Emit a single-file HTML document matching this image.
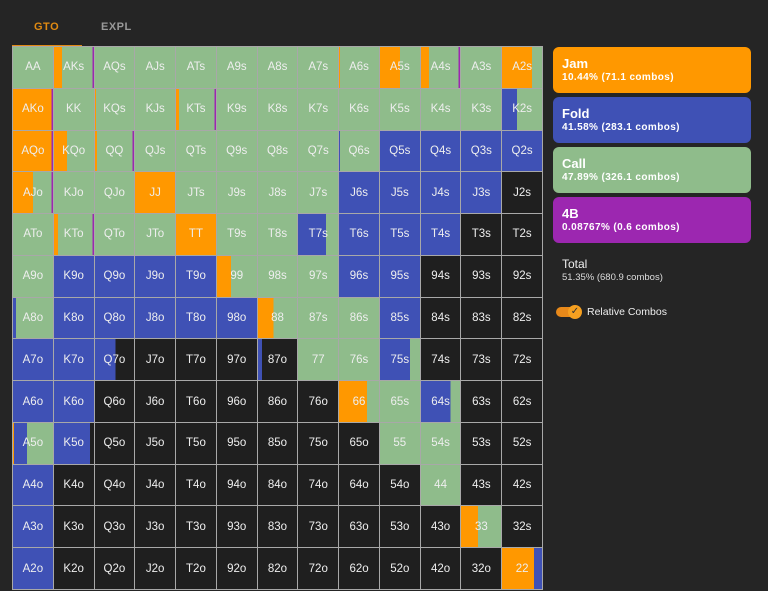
<!DOCTYPE html>
<html><head><meta charset="utf-8"><style>
body{margin:0;width:768px;height:591px;background:#252525;font-family:"Liberation Sans",sans-serif;overflow:hidden;position:relative}
.tab{position:absolute;top:21px;font-size:11px;font-weight:bold;letter-spacing:.5px}
#grid{position:absolute;left:12px;top:46px;width:531px;height:544px;background:#a8a8a8;display:grid;grid-template-columns:repeat(13,1fr);grid-template-rows:repeat(13,1fr);gap:1px;padding:1px;box-sizing:border-box}
#grid div{display:flex;align-items:center;justify-content:center;color:#eee;font-size:11.5px}
.g{background:#8fbc8b}.b{background:#3f51b5}.k{background:#1f1f1f}.o{background:#ff9800}
.box{position:absolute;left:553px;width:198px;height:46px;border-radius:6px;color:#fff;box-sizing:border-box;padding:9px 0 0 9px}
.box b{display:block;font-size:13px}
.box span{display:block;font-size:10px;font-weight:bold;letter-spacing:.4px;margin-top:1px}
</style></head><body>
<div class="tab" style="left:34px;color:#e08a12">GTO</div>
<div class="tab" style="left:101px;color:#999">EXPL</div>
<div style="position:absolute;left:12px;top:45px;width:70px;height:2px;background:#e08a12"></div>
<div id="grid">
<div class="g">AA</div>
<div style="background:linear-gradient(90deg,#ff9800 20%,#8fbc8b 20%,#8fbc8b 96%,#9c27b0 96%)">AKs</div>
<div class="g">AQs</div><div class="g">AJs</div><div class="g">ATs</div><div class="g">A9s</div><div class="g">A8s</div><div class="g">A7s</div>
<div style="background:linear-gradient(90deg,#ff9800 3%,#8fbc8b 3%)">A6s</div>
<div style="background:linear-gradient(90deg,#ff9800 50%,#8fbc8b 50%)">A5s</div>
<div style="background:linear-gradient(90deg,#ff9800 20%,#8fbc8b 20%,#8fbc8b 96%,#9c27b0 96%)">A4s</div>
<div class="g">A3s</div>
<div style="background:linear-gradient(90deg,#ff9800 75%,#8fbc8b 75%)">A2s</div>

<div style="background:linear-gradient(90deg,#ff9800 96%,#9c27b0 96%)">AKo</div>
<div class="g">KK</div>
<div style="background:linear-gradient(90deg,#ff9800 3%,#8fbc8b 3%)">KQs</div>
<div class="g">KJs</div>
<div style="background:linear-gradient(90deg,#ff9800 8%,#8fbc8b 8%,#8fbc8b 96%,#9c27b0 96%)">KTs</div>
<div class="g">K9s</div><div class="g">K8s</div><div class="g">K7s</div><div class="g">K6s</div><div class="g">K5s</div><div class="g">K4s</div><div class="g">K3s</div>
<div style="background:linear-gradient(90deg,#3f51b5 37%,#8fbc8b 37%)">K2s</div>

<div style="background:linear-gradient(90deg,#ff9800 96%,#9c27b0 96%)">AQo</div>
<div style="background:linear-gradient(90deg,#ff9800 32%,#8fbc8b 32%)">KQo</div>
<div style="background:linear-gradient(90deg,#ff9800 5%,#8fbc8b 5%,#8fbc8b 96%,#9c27b0 96%)">QQ</div>
<div class="g">QJs</div><div class="g">QTs</div><div class="g">Q9s</div><div class="g">Q8s</div><div class="g">Q7s</div>
<div style="background:linear-gradient(90deg,#3f51b5 3%,#8fbc8b 3%)">Q6s</div>
<div class="b">Q5s</div><div class="b">Q4s</div><div class="b">Q3s</div><div class="b">Q2s</div>

<div style="background:linear-gradient(90deg,#ff9800 50%,#8fbc8b 50%,#8fbc8b 96%,#9c27b0 96%)">AJo</div>
<div class="g">KJo</div><div class="g">QJo</div><div class="o">JJ</div>
<div class="g">JTs</div><div class="g">J9s</div><div class="g">J8s</div><div class="g">J7s</div>
<div class="b">J6s</div><div class="b">J5s</div><div class="b">J4s</div><div class="b">J3s</div><div class="k">J2s</div>

<div class="g">ATo</div>
<div style="background:linear-gradient(90deg,#ff9800 10%,#8fbc8b 10%,#8fbc8b 96%,#9c27b0 96%)">KTo</div>
<div class="g">QTo</div><div class="g">JTo</div><div class="o">TT</div>
<div class="g">T9s</div><div class="g">T8s</div>
<div style="background:linear-gradient(90deg,#3f51b5 70%,#8fbc8b 70%)">T7s</div>
<div class="b">T6s</div><div class="b">T5s</div><div class="b">T4s</div><div class="k">T3s</div><div class="k">T2s</div>

<div class="g">A9o</div><div class="b">K9o</div><div class="b">Q9o</div><div class="b">J9o</div><div class="b">T9o</div>
<div style="background:linear-gradient(90deg,#ff9800 35%,#8fbc8b 35%)">99</div>
<div class="g">98s</div><div class="g">97s</div><div class="b">96s</div><div class="b">95s</div><div class="k">94s</div><div class="k">93s</div><div class="k">92s</div>

<div style="background:linear-gradient(90deg,#3f51b5 8%,#8fbc8b 8%)">A8o</div>
<div class="b">K8o</div><div class="b">Q8o</div><div class="b">J8o</div><div class="b">T8o</div><div class="b">98o</div>
<div style="background:linear-gradient(90deg,#ff9800 40%,#8fbc8b 40%)">88</div>
<div class="g">87s</div><div class="g">86s</div><div class="b">85s</div><div class="k">84s</div><div class="k">83s</div><div class="k">82s</div>

<div class="b">A7o</div><div class="b">K7o</div>
<div style="background:linear-gradient(90deg,#3f51b5 52%,#1f1f1f 52%)">Q7o</div>
<div class="k">J7o</div><div class="k">T7o</div><div class="k">97o</div>
<div style="background:linear-gradient(90deg,#3f51b5 10%,#1f1f1f 10%)">87o</div>
<div class="g">77</div><div class="g">76s</div>
<div style="background:linear-gradient(90deg,#3f51b5 75%,#8fbc8b 75%)">75s</div>
<div class="k">74s</div><div class="k">73s</div><div class="k">72s</div>

<div class="b">A6o</div><div class="b">K6o</div><div class="k">Q6o</div><div class="k">J6o</div><div class="k">T6o</div><div class="k">96o</div><div class="k">86o</div><div class="k">76o</div>
<div style="background:linear-gradient(90deg,#ff9800 70%,#8fbc8b 70%)">66</div>
<div class="g">65s</div>
<div style="background:linear-gradient(90deg,#3f51b5 75%,#8fbc8b 75%)">64s</div>
<div class="k">63s</div><div class="k">62s</div>

<div style="background:linear-gradient(90deg,#ff9800 3%,#3f51b5 3%,#3f51b5 35%,#8fbc8b 35%)">A5o</div>
<div style="background:linear-gradient(90deg,#3f51b5 90%,#1f1f1f 90%)">K5o</div>
<div class="k">Q5o</div><div class="k">J5o</div><div class="k">T5o</div><div class="k">95o</div><div class="k">85o</div><div class="k">75o</div><div class="k">65o</div>
<div class="g">55</div><div class="g">54s</div><div class="k">53s</div><div class="k">52s</div>

<div class="b">A4o</div><div class="k">K4o</div><div class="k">Q4o</div><div class="k">J4o</div><div class="k">T4o</div><div class="k">94o</div><div class="k">84o</div><div class="k">74o</div><div class="k">64o</div><div class="k">54o</div><div class="g">44</div><div class="k">43s</div><div class="k">42s</div>

<div class="b">A3o</div><div class="k">K3o</div><div class="k">Q3o</div><div class="k">J3o</div><div class="k">T3o</div><div class="k">93o</div><div class="k">83o</div><div class="k">73o</div><div class="k">63o</div><div class="k">53o</div><div class="k">43o</div>
<div style="background:linear-gradient(90deg,#ff9800 42%,#8fbc8b 42%)">33</div>
<div class="k">32s</div>

<div class="b">A2o</div><div class="k">K2o</div><div class="k">Q2o</div><div class="k">J2o</div><div class="k">T2o</div><div class="k">92o</div><div class="k">82o</div><div class="k">72o</div><div class="k">62o</div><div class="k">52o</div><div class="k">42o</div><div class="k">32o</div>
<div style="background:linear-gradient(90deg,#ff9800 80%,#3f51b5 80%)">22</div>
</div>

<div class="box" style="top:47px;background:#ff9800"><b>Jam</b><span>10.44% (71.1 combos)</span></div>
<div class="box" style="top:97px;background:#3f51b5"><b>Fold</b><span>41.58% (283.1 combos)</span></div>
<div class="box" style="top:147px;background:#8fbc8b"><b>Call</b><span>47.89% (326.1 combos)</span></div>
<div class="box" style="top:197px;background:#9c27b0"><b>4B</b><span>0.08767% (0.6 combos)</span></div>
<div style="position:absolute;left:562px;top:257px;color:#eee;font-size:12px">Total</div>
<div style="position:absolute;left:562px;top:272px;color:#ddd;font-size:9.5px">51.35% (680.9 combos)</div>
<div style="position:absolute;left:556px;top:307px;width:24px;height:10px;border-radius:5px;background:#e8891a"></div>
<div style="position:absolute;left:568px;top:305px;width:14px;height:14px;border-radius:7px;background:#f6a020;color:#333;font-size:10px;line-height:14px;text-align:center">✓</div>
<div style="position:absolute;left:587px;top:306px;color:#eee;font-size:10.5px">Relative Combos</div>
</body></html>
